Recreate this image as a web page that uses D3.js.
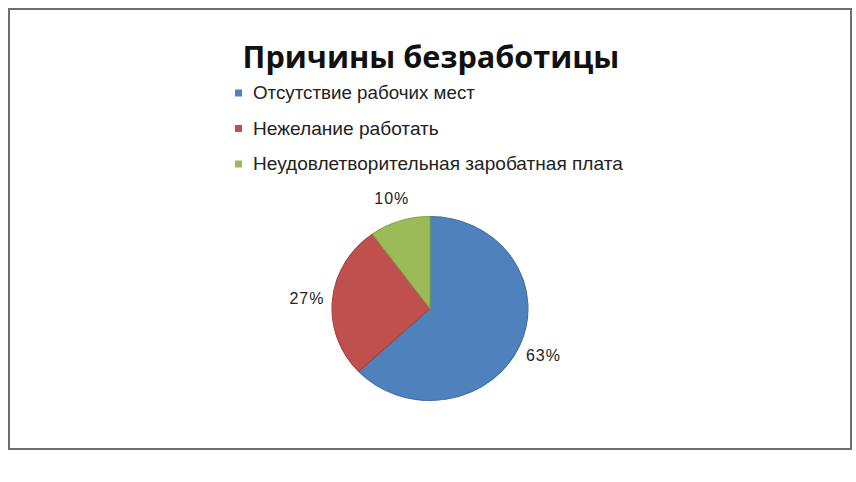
<!DOCTYPE html>
<html>
<head>
<meta charset="utf-8">
<script src="https://cdn.jsdelivr.net/npm/d3@7"></script>
<style>
  body { margin: 0; background: #fff; }
  svg { display: block; }
</style>
</head>
<body>
<svg width="856" height="482"></svg>
<script>
var categories = ["Отсутствие рабочих мест", "Нежелание работать", "Неудовлетворительная заробатная плата"];
var values = [63, 27, 10];
var valueLabels = ["63%", "27%", "10%"];
var colors = ["#4f81bd", "#c0504d", "#9bbb59"];
var edges = ["#3f6ea6", "#a64440", "#86a548"];

var svg = d3.select('svg');

// frame
svg.append('rect')
    .attr('x', 9).attr('y', 9)
    .attr('width', 842).attr('height', 440)
    .attr('fill', '#fff')
    .attr('stroke', '#6e6e6e')
    .attr('stroke-width', 2);

// stretch text to a given width
function fit(sel, w) {
    var len = sel.node().getComputedTextLength();
    var fs = parseFloat(sel.attr('font-size'));
    sel.attr('font-size', fs * w / len);
}

var title = svg.append('text')
    .text('Причины безработицы')
    .attr('x', 431).attr('y', 68)
    .attr('text-anchor', 'middle')
    .attr('font-family', 'Open Sans, sans-serif')
    .attr('font-weight', 'bold')
    .attr('font-size', 32)
    .attr('fill', '#111');
fit(title, 377);

// legend
var scaleRow = d3.scalePoint().domain(categories).range([93, 164]);
var legendW = [222, 186, 370];

var legend = svg.append('g');
categories.forEach(function(c, i) {
    legend.append('rect')
        .attr('x', 235).attr('y', scaleRow(c) - 3.5)
        .attr('width', 7).attr('height', 7)
        .attr('fill', colors[i]);
    var t = legend.append('text')
        .text(c)
        .attr('x', 253).attr('y', scaleRow(c) + 6)
        .attr('font-family', 'Liberation Sans, sans-serif')
        .attr('font-size', 17)
        .attr('fill', '#222');
    fit(t, legendW[i]);
});

// pie
var rx = 98, ry = 92;
var pie = d3.pie().sort(null).value(function(d) { return d; });
var arc = d3.arc().innerRadius(0).outerRadius(ry);
var arcs = pie(values);

var g = svg.append('g')
    .attr('transform', 'translate(430,308.5) scale(' + (rx / ry) + ',1)');

g.selectAll('path')
    .data(arcs)
    .enter()
    .append('path')
    .attr('d', arc)
    .attr('fill', function(d, i) { return colors[i]; })
    .attr('stroke', function(d, i) { return edges[i]; })
    .attr('stroke-width', 1);

// labels outside the pie
var labelArc = d3.arc().innerRadius(ry + 24).outerRadius(ry + 24);
svg.selectAll('.lbl')
    .data(arcs)
    .enter()
    .append('text')
    .attr('class', 'lbl')
    .text(function(d, i) { return valueLabels[i]; })
    .attr('x', function(d) { return 430 + labelArc.centroid(d)[0] * rx / ry; })
    .attr('y', function(d) { return 308.5 + labelArc.centroid(d)[1] + 6; })
    .attr('text-anchor', 'middle')
    .attr('font-family', 'Liberation Sans, sans-serif')
    .attr('font-size', 16)
    .attr('letter-spacing', 1)
    .attr('fill', '#222');
</script>
</body>
</html>
